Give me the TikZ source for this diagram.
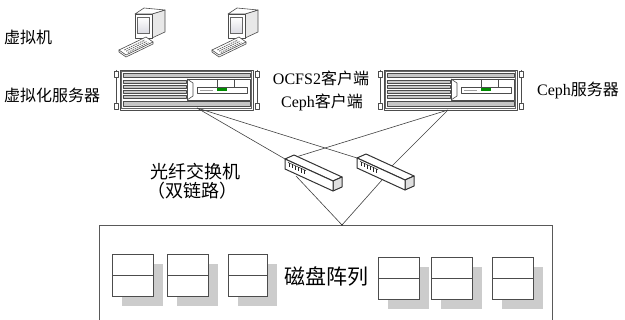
\documentclass[tikz,border=0pt]{standalone}
\usepackage{fontspec}
\setmainfont{Liberation Serif}
\newfontfamily\cjk{Noto Sans CJK SC}
\usetikzlibrary{calc,shadows}
\begin{document}
\begin{tikzpicture}[x=1pt,y=-1pt,
  dev/.style={draw=black!70,line width=0.6pt,line join=round},
  swline/.style={draw=black!80,line width=1pt,line join=round},
  link/.style={draw=black!75,line width=0.6pt},
  lbl/.style={inner sep=0pt,font=\fontsize{16}{18}\selectfont},
  srvbox/.style={anchor=north west,minimum width=133pt,minimum height=40pt,inner sep=0pt},
  disk/.style={draw=black!70,line width=0.6pt,fill=white,anchor=north west,
    minimum width=41pt,minimum height=42pt,inner sep=0pt,
    drop shadow={shadow xshift=10pt,shadow yshift=-10pt,fill=gray!40,opacity=1}},
  pics/rackserver/.style={code={
    % mounting ears
    \draw[dev] (-4,0) -- (-4,40) (137,0) -- (137,40);
    \draw[dev,fill=white] (-6,1) rectangle (-2,7) (-6,33) rectangle (-2,39);
    \draw[dev,fill=white] (135,1) rectangle (139,7) (135,33) rectangle (139,39);
    % chassis
    \draw[dev,fill=white] (0,0) rectangle (133,40);
    \draw[black!60,line width=0.4pt] (1.5,1.5) rectangle (131.5,38.5);
    \draw[dev,fill=gray!45] (3,3) rectangle (130,7.5);
    \foreach \vy in {10,15,20,25} \draw[dev,fill=gray!45] (3,\vy) rectangle (66,\vy+3);
    % front panel with display
    \draw[dev,fill=white] (67,9) rectangle (130,30);
    \draw[dev] (67,9) -- (73,13) -- (73,26) -- (67,30);
    \draw[dev] (97,9) -- (97,17) (114,9) -- (114,17);
    \draw[dev,fill=white] (77,17) rectangle (127,23);
    \fill[green!55!black] (97,17.8) rectangle (107,20.6);
    \fill[gray!75] (80,19.6) rectangle (93,21.4);
    \draw[dev,fill=gray!45] (3,31.5) rectangle (130,36.5);
  }},
  pics/fcswitch/.style={code={
    \draw[swline,fill=white] (0,0) -- (9,-4) -- (57,18) -- (48,22) -- cycle;
    \draw[swline,fill=gray!25] (48,22) -- (57,18) -- (57,28) -- (48,32) -- cycle;
    \draw[swline,fill=white] (0,0) -- (48,22) -- (48,32) -- (0,10) -- cycle;
    \draw[black!80,line width=0.5pt] (3,3.4) -- (21,11.6);
    \foreach \t in {0,...,5}
      \draw[black!85,line width=0.9pt] ($(4,3.9)+\t*(3,1.37)$) -- ++(0,4.2);
  }},
  pics/desktop/.style={code={
    % monitor
    \draw[dev,fill=gray!18] (17,0) -- (30,-4) -- (30,18) -- (17,24) -- cycle;
    \draw[dev,fill=white] (0,0) -- (9,-6) -- (30,-4) -- (17,0) -- cycle;
    \draw[dev,fill=white] (0,0) rectangle (17,24);
    \draw[black!60,line width=0.4pt,top color=white,bottom color=blue!12!gray!25] (2.5,3) rectangle (14,19);
    % keyboard
    \draw[dev,fill=white] (-16,36) -- ++(0,2) -- ++(7,5) -- ++(27,-13) -- ++(0,-2) -- cycle;
    \draw[dev,fill=white] (-16,36) -- ++(27,-13) -- ++(7,5) -- ++(-27,13) -- cycle;
    \foreach \s in {0.3,0.55,0.8}
      \draw[black!60,line width=0.8pt,dash pattern=on 1.6pt off 0.9pt]
        ($(-16,36)+\s*(7,5)+0.12*(27,-13)$) -- ($(-16,36)+\s*(7,5)+0.88*(27,-13)$);
  }}
]
\useasboundingbox (0,0) rectangle (625,320);

% labels
\node[lbl,anchor=west] (vmlabel) at (4,37) {\cjk 虚拟机};
\node[lbl,anchor=west] (hostlabel) at (4,95) {\cjk 虚拟化服务器};
\node[lbl] (ocfslabel) at (321,78) {OCFS2{\cjk 客户端}};
\node[lbl] (cephclabel) at (322,102) {Ceph{\cjk 客户端}};
\node[lbl,anchor=west] (cephslabel) at (537,90) {Ceph{\cjk 服务器}};
\node[lbl,font=\fontsize{18}{20}\selectfont] (swlabel) at (195,172) {\cjk 光纤交换机};
\node[lbl,font=\fontsize{18}{20}\selectfont] (swlabel2) at (192,191) {\cjk （双链路）};

% virtual machines
\pic at (135,14) {desktop};
\pic at (228,14) {desktop};

% servers
\node[srvbox] (srv1) at (120,70) {};
\node[srvbox] (srv2) at (384,70) {};
\pic at (srv1.north west) {rackserver};
\pic at (srv2.north west) {rackserver};

% connection points
\coordinate (srv1port) at (197,108);
\coordinate (srv2port) at (448,110);
\coordinate (sw1) at (285,159);
\coordinate (sw2) at (357,158);
\coordinate (sw1top) at (296,157);
\coordinate (sw2top) at (392,166);
\coordinate (sw1low) at (296,176);
\coordinate (sw2low) at (382,180);
\coordinate (apex) at (342,225);

% fibre links
\draw[link] (srv1port) -- (sw1);
\draw[link] (srv1port) -- (sw2);
\draw[link] (srv2port) -- (sw1top);
\draw[link] (srv2port) -- (sw2top);
\draw[link] (apex) -- (sw1low);
\draw[link] (apex) -- (sw2low);

% switches
\pic at (sw1) {fcswitch};
\pic at (sw2) {fcswitch};

% disk array enclosure
\draw[draw=black!65,line width=0.8pt] (99,322) -- (99,225) -- (552,225) -- (552,322);
\fill[black!80] (apex) circle (1pt);

\node[disk] (d1) at (112,254) {};
\node[disk] (d2) at (167,254) {};
\node[disk,minimum width=39pt] (d3) at (228,254) {};
\node[disk] (d4) at (378,257) {};
\node[disk] (d5) at (431,257) {};
\node[disk] (d6) at (492,257) {};
\foreach \d in {d1,d2,d3,d4,d5,d6} \draw[black!70,line width=0.6pt] (\d.west) -- (\d.east);

\node[lbl,font=\fontsize{21}{23}\selectfont] (arraylabel) at (326,276) {\cjk 磁盘阵列};
\end{tikzpicture}
\end{document}
